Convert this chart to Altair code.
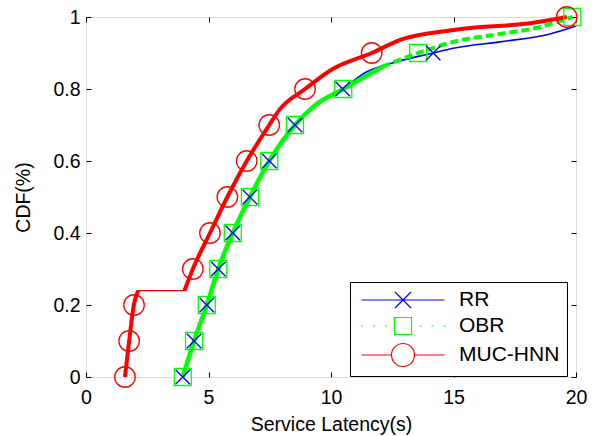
import altair as alt
import pandas as pd

# ---------------- data ----------------
series_names = ["RR", "OBR", "MUC-HNN"]
series_colors = ["#0000ff", "#00ff00", "#ff0000"]

rr_x = [3.95, 4.41, 4.93, 5.40, 5.99, 6.69, 7.48, 8.53, 9.30, 10.48, 11.46, 12.50, 14.17, 15.00, 16.90, 18.94, 20.00]
rr_y = [0.0, 0.1, 0.2, 0.3, 0.4, 0.5, 0.6, 0.7, 0.75, 0.80, 0.848, 0.872, 0.90, 0.913, 0.931, 0.953, 0.975]

obr_x = [3.95, 4.41, 4.93, 5.40, 5.99, 6.69, 7.48, 8.53, 9.28, 10.50, 12.10, 13.56, 15.00, 16.90, 18.25, 19.60, 19.85]
obr_y = [0.0, 0.1, 0.2, 0.3, 0.4, 0.5, 0.6, 0.7, 0.751, 0.80, 0.862, 0.90, 0.931, 0.953, 0.968, 0.994, 1.0]

muc_x = [1.59, 1.76, 1.96, 2.13, 4.02, 4.36, 5.06, 5.77, 6.56, 7.48, 7.89, 8.94, 10.10, 11.66, 12.80, 15.00, 18.25, 19.62]
muc_y = [0.0, 0.1, 0.203, 0.24, 0.24, 0.30, 0.40, 0.50, 0.60, 0.70, 0.742, 0.80, 0.857, 0.90, 0.936, 0.964, 0.984, 1.0]

cdf_levels = [0.0, 0.1, 0.2, 0.3, 0.4, 0.5, 0.6, 0.7, 0.8, 0.9, 1.0]
rr_marker_x = [3.95, 4.41, 4.93, 5.40, 5.99, 6.69, 7.48, 8.53, 10.48, 14.17]
obr_marker_x = [3.95, 4.41, 4.93, 5.40, 5.99, 6.69, 7.48, 8.53, 10.50, 13.56, 19.85]
muc_marker_x = [1.59, 1.76, 1.96, 4.36, 5.06, 5.77, 6.56, 7.48, 8.94, 11.66, 19.62]

x_ticks = [0, 5, 10, 15, 20]
y_ticks = [0, 0.2, 0.4, 0.6, 0.8, 1]

# ---------------- frames ----------------
rr = pd.DataFrame({"x": rr_x, "y": rr_y})
obr = pd.DataFrame({"x": obr_x, "y": obr_y})
muc = pd.DataFrame({"x": muc_x, "y": muc_y})
rr_m = pd.DataFrame({"x": rr_marker_x, "y": cdf_levels[:len(rr_marker_x)]})
obr_m = pd.DataFrame({"x": obr_marker_x, "y": cdf_levels[:len(obr_marker_x)]})
muc_m = pd.DataFrame({"x": muc_marker_x, "y": cdf_levels[:len(muc_marker_x)]})
legend_df = pd.DataFrame({"series": series_names})

FONT = "Liberation Sans"
FS = 19.5

xscale = alt.Scale(domain=[0, 20], nice=False, zero=False)
yscale = alt.Scale(domain=[0, 1], nice=False, zero=False)

common_axis = dict(offset=-5, tickSize=5, domain=False, grid=False, tickColor="black",
                   tickWidth=1, labelColor="black", titleColor="black", labelFont=FONT,
                   labelFontSize=FS, titleFont=FONT, titleFontSize=FS,
                   titleFontWeight="normal", labelFlush=False)

x_bottom = alt.Axis(orient="bottom", title="Service Latency(s)", values=x_ticks,
                    labelPadding=11, titlePadding=9, **common_axis)
y_left = alt.Axis(orient="left", title="CDF(%)", values=y_ticks, format="~g",
                  labelPadding=6, titlePadding=19, **common_axis)
x_top = alt.Axis(orient="top", title=None, values=x_ticks, labels=False, **common_axis)
y_right = alt.Axis(orient="right", title=None, values=y_ticks, labels=False, **common_axis)


def enc(xaxis=None, yaxis=None):
    return dict(x=alt.X("x:Q", scale=xscale, axis=xaxis),
                y=alt.Y("y:Q", scale=yscale, axis=yaxis))


blue_line = alt.Chart(rr).mark_line(color=series_colors[0], strokeWidth=1.6,
                                    interpolate="monotone", clip=False).encode(**enc(x_bottom, y_left))

green_solid = alt.Chart(obr).transform_filter("datum.x <= 12.1").mark_line(
    color=series_colors[1], strokeWidth=4.5, interpolate="monotone").encode(**enc(x_top, y_right))
green_dash = alt.Chart(obr).transform_filter("datum.x >= 12.1").mark_line(
    color=series_colors[1], strokeWidth=4, strokeDash=[8, 4], interpolate="monotone").encode(**enc())

red_thin = alt.Chart(muc).mark_line(color=series_colors[2], strokeWidth=1.3,
                                    interpolate="monotone").encode(**enc())
red_thick = alt.Chart(muc).transform_calculate(seg="datum.x < 3 ? 'a' : 'b'").mark_line(
    color=series_colors[2], strokeWidth=4, interpolate="monotone").encode(
    detail="seg:N", **enc())

x_path = "M-1,-1L1,1M-1,1L1,-1"
square_marks = alt.Chart(obr_m).mark_point(shape="square", size=289, filled=False, opacity=1,
                                           color=series_colors[1], strokeWidth=1.3).encode(**enc())
x_marks = alt.Chart(rr_m).mark_point(shape=x_path, size=210, filled=False, opacity=1,
                                     color=series_colors[0], strokeWidth=1.3).encode(**enc())
circle_marks = alt.Chart(muc_m).mark_point(shape="circle", size=420, filled=False, opacity=1,
                                           color=series_colors[2], strokeWidth=1.3).encode(**enc())

# legend symbols: line + marker drawn as one path (units of sqrt(size)/2 = 10 px)
legend_paths = [
    "M-4.15,0H4.15M-0.8,-0.8L0.8,0.8M-0.8,0.8L0.8,-0.8",
    "M-4.2,0H-4.05M-3.0,0H-2.85M-1.8,0H-1.65M-0.85,-0.85H0.85V0.85H-0.85ZM1.65,0H1.8M2.85,0H3.0M4.05,0H4.2",
    "M-4.15,0H-1.15M1.15,0H4.15M-1.15,0A1.15,1.15,0,1,1,1.15,0A1.15,1.15,0,1,1,-1.15,0",
]

legend_layer = alt.Chart(legend_df).transform_filter("false").mark_point(
    filled=False, opacity=1, strokeWidth=1.2).encode(
    color=alt.Color("series:N", scale=alt.Scale(domain=series_names, range=series_colors),
                    legend=alt.Legend(title=None, orient="none", legendX=264, legendY=265,
                                      direction="vertical", strokeColor="black",
                                      fillColor="white", padding=7, cornerRadius=0,
                                      symbolSize=400, symbolStrokeWidth=1.2,
                                      symbolOffset=35, labelOffset=45, rowPadding=4,
                                      labelFont=FONT, labelFontSize=21, labelColor="black")),
    shape=alt.Shape("series:N", scale=alt.Scale(domain=series_names, range=legend_paths)),
)

chart = alt.layer(
    blue_line, green_solid, green_dash, red_thin, red_thick,
    square_marks, x_marks, circle_marks, legend_layer,
).properties(
    width=490, height=360,
    padding={"left": 86, "top": 17, "right": 23, "bottom": 59},
    autosize=alt.AutoSizeParams(type="none"),
).configure_view(
    stroke="black", strokeWidth=1.3
).configure(background="white")

chart.save("out.html", embed_options={"renderer": "svg", "actions": False})
